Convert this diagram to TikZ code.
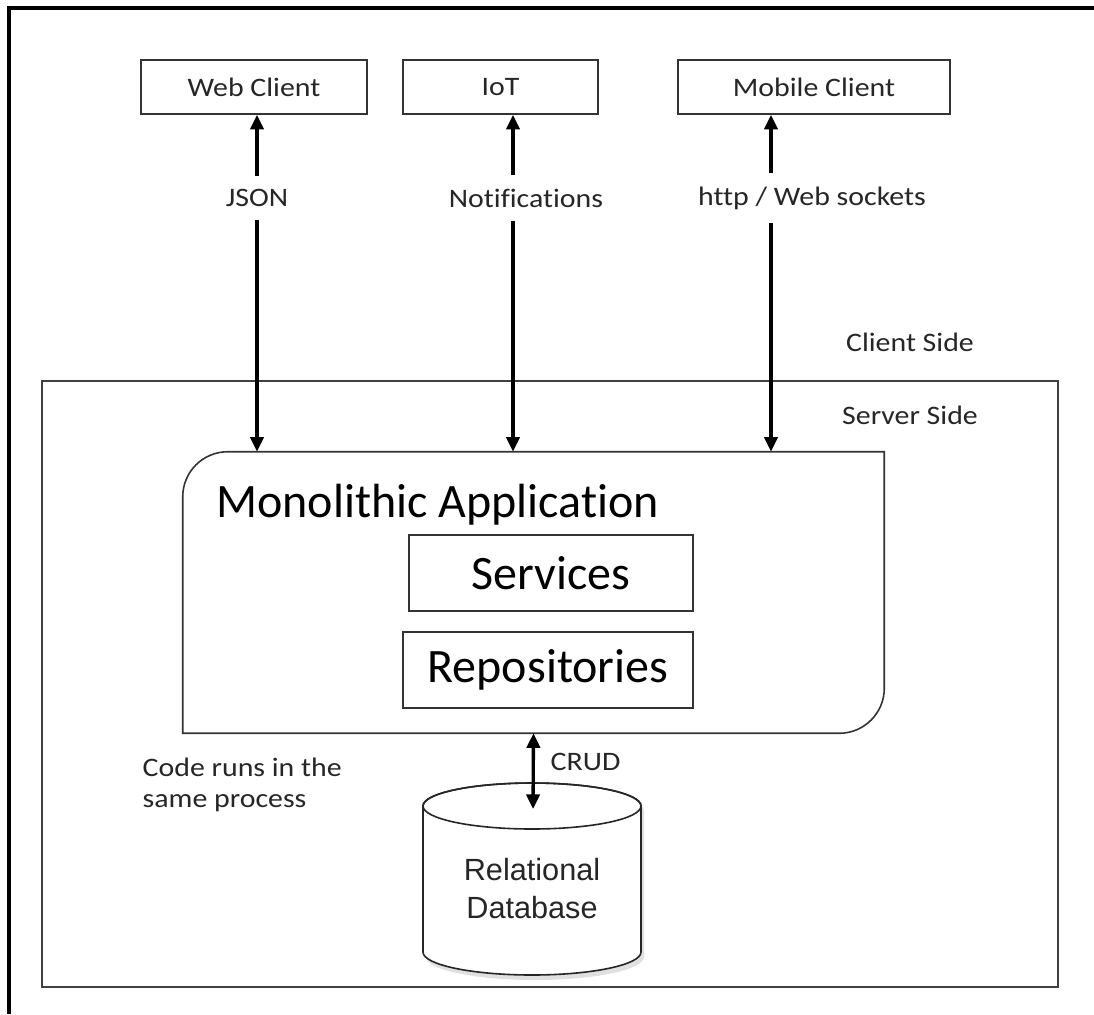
\documentclass[tikz,border=0pt]{standalone}
\usepackage{fontspec}
\setmainfont{Carlito}[Ligatures=NoCommon]
\newfontfamily\labelfont{Carlito}[FakeStretch=1.12,Ligatures=NoCommon]
\newfontfamily\dbfont{Liberation Sans}
\usetikzlibrary{arrows.meta}
\newcommand\unitpx{0.75pt}

\begin{document}
\begin{tikzpicture}[x=0.75pt,y=-0.75pt,
  >={Triangle[length=11pt,width=10pt]},
  box/.style={draw=black!80,line width=1.2pt,inner sep=0pt},
  small/.style={font=\labelfont\fontsize{20}{23.5}\selectfont,text=black!85},
  big/.style={font=\fontsize{36}{43}\selectfont,text=black},
  link/.style={line width=2.5pt,<->},
  cover/.style={fill=white,inner xsep=4pt,inner ysep=10pt}]
\useasboundingbox (0,0) rectangle (1094,1014);
% frame, only top and left
\draw[line width=2.4pt] (1094,8) -- (9,8) -- (9,1014);
% server side area
\draw[draw=black!75,line width=1.2pt] (42,381) rectangle (1058,987);

% clients
\node[box,small,minimum width={226*\unitpx},minimum height={54*\unitpx}] (web) at (254,87) {Web Client};
\node[box,small,minimum width={195*\unitpx},minimum height={54*\unitpx}] (iot) at (500.5,87) {IoT};
\node[box,small,minimum width={272*\unitpx},minimum height={54*\unitpx}] (mobile) at (814,87) {Mobile Client};

% monolithic application
\node[minimum width={701*\unitpx},minimum height={281*\unitpx},inner sep=0pt] (app) at (533.5,592.5) {};
\draw[draw=black!80,line width=1.2pt] (app.south west) -- ([yshift={-45*\unitpx}]app.north west)
  arc[start angle=180,end angle=270,radius=45] -- (app.north east)
  -- ([yshift={45*\unitpx}]app.south east) arc[start angle=0,end angle=90,radius=45] -- cycle;
\node[big,anchor=base west,inner sep=0pt] (apptitle) at (216,517) {Monolithic Application};
\node[box,big,minimum width={284*\unitpx},minimum height={76*\unitpx}] (services) at (551,573) {Services};
\node[box,big,minimum width={290*\unitpx},minimum height={76*\unitpx}] (repos) at (548,670) {Repositories};

% client links
\coordinate (wx) at (257,0);
\coordinate (ix) at (513,0);
\coordinate (mx) at (771,0);
\draw[link] (web.south -| wx) -- (app.north -| wx);
\draw[link] (iot.south -| ix) -- (app.north -| ix);
\draw[link] (mobile.south -| mx) -- (app.north -| mx);
\node[small,cover] (json) at (257,198) {JSON};
\node[small,cover] (notif) at (526,198) {Notifications};
\node[small,cover] (proto) at (812,198) {http / Web sockets};

\node[small] (client) at (910,342) {Client Side};
\node[small] (server) at (910,415) {Server Side};

% database
\fill[black!12,shift={(3,5)}] (423,806) -- (423,952) arc[start angle=180,end angle=0,x radius=109,y radius=23]
  -- (641,806) arc[start angle=0,end angle=-180,x radius=109,y radius=23] -- cycle;
\filldraw[fill=white,draw=black!85,line width=1.2pt] (423,806) -- (423,952)
  arc[start angle=180,end angle=0,x radius=109,y radius=23]
  -- (641,806) arc[start angle=0,end angle=-180,x radius=109,y radius=23] -- cycle;
\draw[black!85,line width=1.2pt] (532,806) ellipse[x radius=109,y radius=23];
\node[font=\dbfont\fontsize{23}{28.5}\selectfont,align=center,text=black!85] (db) at (532,889) {Relational\\Database};
\coordinate (dbtop) at (533,809);
\draw[link] (app.south) -- (dbtop);
\node[small,anchor=west] (crud) at (546,762) {CRUD};

\node[small,anchor=west,align=left] (note) at (138,785) {Code runs in the\\same process};
\end{tikzpicture}
\end{document}
